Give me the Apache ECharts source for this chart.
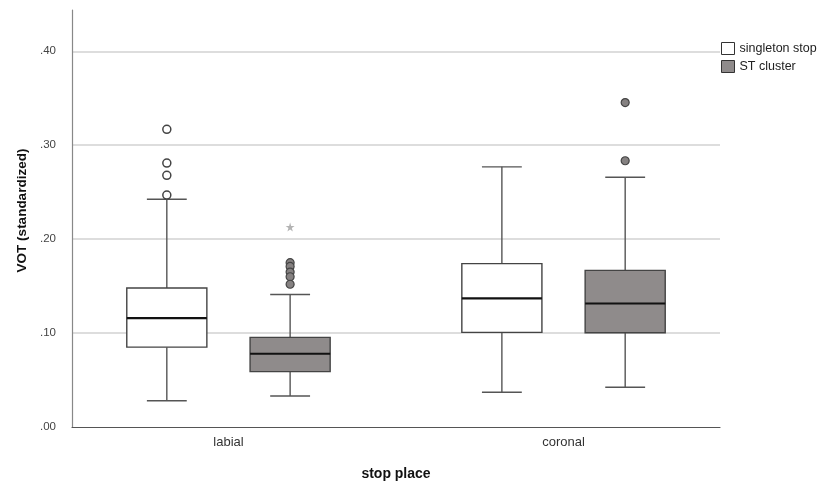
<!DOCTYPE html>
<html>
<head>
<meta charset="utf-8">
<script src="https://cdn.jsdelivr.net/npm/echarts@6/dist/echarts.min.js"></script>
<style>
  html, body { margin: 0; padding: 0; background: #fff; }
  #chart { width: 830px; height: 486px; }
</style>
</head>
<body>
<div id="chart"></div>
<script>
// Place of articulation (x categories)
const categories = ['labial', 'coronal'];
const groupNames = ['singleton stop', 'ST cluster'];

// Box statistics per category: [min whisker, Q1, median, Q3, max whisker]
const singletonStats = [
  [0.028, 0.085, 0.116, 0.148, 0.2425],
  [0.037, 0.1007, 0.137, 0.174, 0.277]
];
const clusterStats = [
  [0.033, 0.059, 0.078, 0.0954, 0.141],
  [0.0424, 0.1004, 0.1315, 0.1668, 0.266]
];

// Outliers: [category index, value]
const singletonOutliers = [[0, 0.317], [0, 0.281], [0, 0.268], [0, 0.247]];
const clusterOutliers = [
  [0, 0.175], [0, 0.171], [0, 0.165], [0, 0.160], [0, 0.152],
  [1, 0.3454], [1, 0.2835]
];
// Extreme values (drawn as stars)
const clusterExtremes = [[0, 0.213]];

// Y tick labels
const yTicks = [0, 0.1, 0.2, 0.3, 0.4];

// Layout constants (in x-axis units)
const GROUP_OFFSET = 0.184;
const BOX_W = 0.239;
const CAP_W = 0.119;

const STAR = 'path://M50,0 L61,35 L98,35 L68,57 L79,91 L50,70 L21,91 L32,57 L2,35 L39,35 Z';

function boxRenderer(offset, fill) {
  return function (params, api) {
    const x = api.value(0) + offset;
    const pMin = api.coord([x, api.value(1)]);
    const pQ1 = api.coord([x, api.value(2)]);
    const pMed = api.coord([x, api.value(3)]);
    const pQ3 = api.coord([x, api.value(4)]);
    const pMax = api.coord([x, api.value(5)]);
    const bw = api.size([BOX_W, 0])[0];
    const cw = api.size([CAP_W, 0])[0];
    const cx = pMed[0];
    const whisker = { stroke: '#555', lineWidth: 1.4 };
    return {
      type: 'group',
      children: [
        { type: 'line', shape: { x1: cx, y1: pQ3[1], x2: cx, y2: pMax[1] }, style: whisker },
        { type: 'line', shape: { x1: cx, y1: pQ1[1], x2: cx, y2: pMin[1] }, style: whisker },
        { type: 'line', shape: { x1: cx - cw / 2, y1: pMax[1], x2: cx + cw / 2, y2: pMax[1] }, style: whisker },
        { type: 'line', shape: { x1: cx - cw / 2, y1: pMin[1], x2: cx + cw / 2, y2: pMin[1] }, style: whisker },
        { type: 'rect', shape: { x: cx - bw / 2, y: pQ3[1], width: bw, height: pQ1[1] - pQ3[1] },
          style: { fill: fill, stroke: '#444', lineWidth: 1.4 } },
        { type: 'line', shape: { x1: cx - bw / 2, y1: pMed[1], x2: cx + bw / 2, y2: pMed[1] },
          style: { stroke: '#111', lineWidth: 2.2 } }
      ]
    };
  };
}

const toBoxData = stats => stats.map((s, i) => [i].concat(s));
const shift = (pts, off) => pts.map(p => [p[0] + off, p[1]]);

const chart = echarts.init(document.getElementById('chart'), null, { renderer: 'canvas' });
chart.setOption({
  animation: false,
  backgroundColor: '#fff',
  textStyle: { fontFamily: 'Liberation Sans, Arial, sans-serif' },
  grid: { left: 72, right: 110, top: 10, bottom: 57.5 },
  legend: {
    orient: 'vertical',
    left: 721,
    top: 42,
    padding: 0,
    itemWidth: 13,
    itemHeight: 12,
    itemGap: 5,
    selectedMode: false,
    textStyle: { fontSize: 12.5, color: '#222' },
    data: [
      { name: groupNames[0], icon: 'rect', itemStyle: { color: '#fff', borderColor: '#333', borderWidth: 1 } },
      { name: groupNames[1], icon: 'rect', itemStyle: { color: '#8f8b8b', borderColor: '#333', borderWidth: 1 } }
    ]
  },
  xAxis: {
    type: 'value',
    min: -0.467,
    max: 1.467,
    name: 'stop place',
    nameLocation: 'middle',
    nameGap: 40,
    nameTextStyle: { fontSize: 14, fontWeight: 'bold', color: '#111' },
    axisLine: { show: true, onZero: false, lineStyle: { color: '#555', width: 1.2 } },
    axisTick: { show: false },
    splitLine: { show: false },
    axisLabel: {
      customValues: [0, 1],
      margin: 9,
      fontSize: 13,
      color: '#333',
      formatter: v => categories[Math.round(v)]
    }
  },
  yAxis: {
    type: 'value',
    min: 0,
    max: 0.444,
    interval: 0.1,
    name: 'VOT (standardized)',
    nameLocation: 'middle',
    nameGap: 42,
    nameTextStyle: { fontSize: 13.5, fontWeight: 'bold', color: '#111', padding: [0, 0, 0, 16] },
    axisLine: { show: true, onZero: false, lineStyle: { color: '#888', width: 1.2 } },
    axisTick: { show: false },
    axisLabel: {
      customValues: yTicks,
      margin: 16,
      fontSize: 11.5,
      color: '#444',
      formatter: v => v.toFixed(2).replace(/^0/, '')
    },
    splitLine: { show: true, showMaxLine: false, showMinLine: false, lineStyle: { color: '#d2d2d2', width: 1.5 } }
  },
  series: [
    {
      name: groupNames[0],
      type: 'custom',
      renderItem: boxRenderer(-GROUP_OFFSET, '#fff'),
      encode: { x: 0, y: [1, 2, 3, 4, 5] },
      data: toBoxData(singletonStats),
      z: 3
    },
    {
      name: groupNames[1],
      type: 'custom',
      renderItem: boxRenderer(GROUP_OFFSET, '#8f8b8b'),
      encode: { x: 0, y: [1, 2, 3, 4, 5] },
      data: toBoxData(clusterStats),
      z: 3
    },
    {
      name: groupNames[0],
      type: 'scatter',
      symbol: 'circle',
      symbolSize: 8,
      itemStyle: { color: '#fff', borderColor: '#444', borderWidth: 1.5, opacity: 1 },
      data: shift(singletonOutliers, -GROUP_OFFSET),
      z: 4
    },
    {
      name: groupNames[1],
      type: 'scatter',
      symbol: 'circle',
      symbolSize: 8,
      itemStyle: { color: '#858181', borderColor: '#444', borderWidth: 1.2, opacity: 1 },
      data: shift(clusterOutliers, GROUP_OFFSET),
      z: 4
    },
    {
      name: groupNames[1],
      type: 'scatter',
      symbol: STAR,
      symbolSize: 9,
      itemStyle: { color: '#b3b3b3', opacity: 1 },
      data: shift(clusterExtremes, GROUP_OFFSET),
      z: 4
    }
  ]
});
</script>
</body>
</html>
